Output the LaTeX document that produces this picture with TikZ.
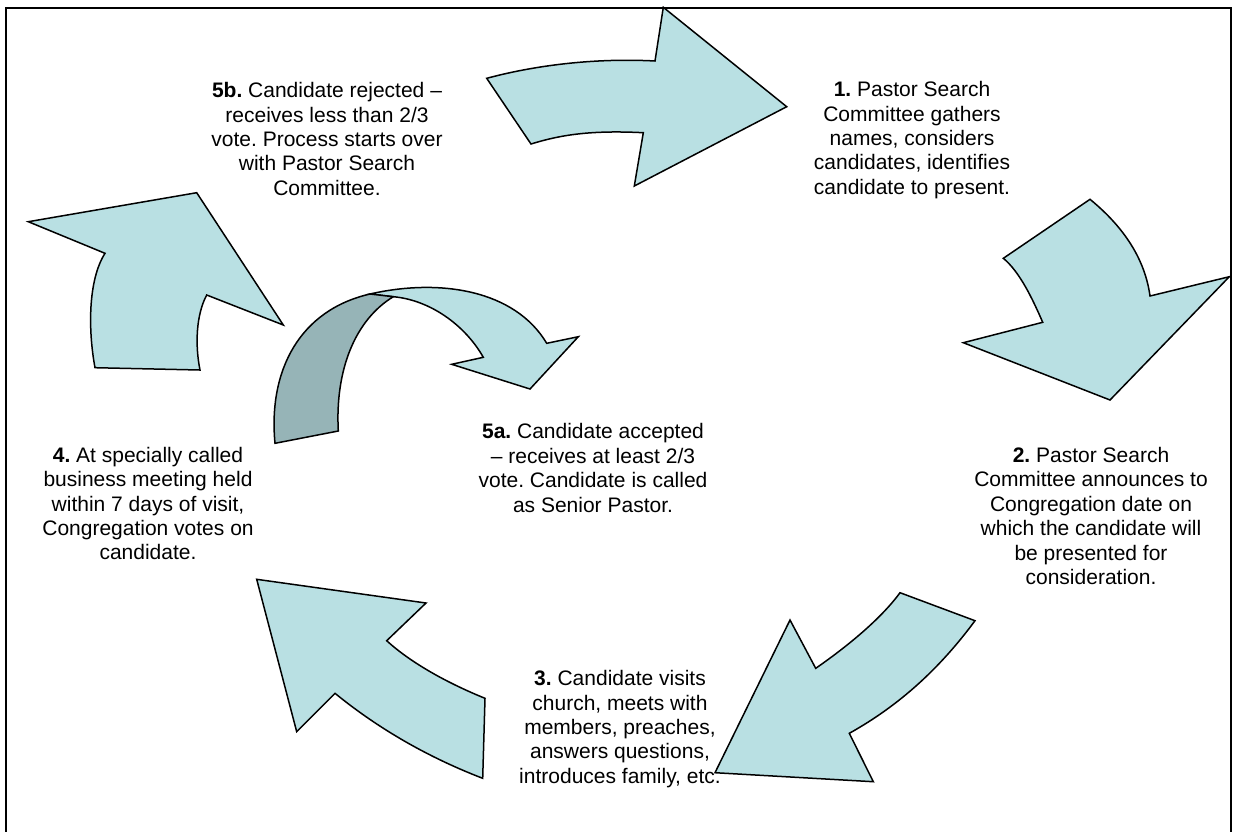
\documentclass[tikz,border=0pt]{standalone}
\usepackage{fontspec}
\setmainfont{Liberation Sans}
\definecolor{arrowfill}{RGB}{185,224,227}
\definecolor{backfill}{RGB}{150,180,183}
\frenchspacing

\begin{document}
\begin{tikzpicture}[x=1pt,y=-1pt,
  block arrow/.style={draw=black,line width=1.5pt,line join=miter,fill=arrowfill},
  back side/.style={block arrow,fill=backfill},
  step text/.style={align=center,inner sep=0pt,
  font=\fontsize{21}{24.4}\selectfont}]

  \useasboundingbox (0,0) rectangle (1238,831);
  \draw[line width=2pt] (6,8) rectangle (1231,850);

  % block arrows round the cycle, clockwise from the top
  \draw[block arrow] (486.7,78.3) .. controls (540,64) and (600,58) .. (655,61)
    -- (663.3,7.3) -- (786.7,106.7) -- (634.3,186) -- (643.3,132.7)
    .. controls (590,130) and (560,135) .. (531,144) -- cycle;
  \draw[block arrow] (1090,199.3) .. controls (1125,228) and (1145,260) .. (1150,296)
    -- (1229.3,276.7) -- (1110,400) -- (963.3,342.7) -- (1042.7,322.3)
    .. controls (1033,300) and (1020,272) .. (1003.3,258.3) -- cycle;
  \draw[block arrow] (975,620.7) .. controls (940,668) and (900,705) .. (849.3,733.3)
    -- (873.3,781.7) -- (715,772.7) -- (790,620) -- (815.7,668.3)
    .. controls (845,648) and (880,620) .. (900,592.7) -- cycle;
  \draw[block arrow] (256.7,579.3) -- (426,603) -- (386.7,640.7)
    .. controls (410,662) and (445,682) .. (485,698.3) -- (482.7,778.3)
    .. controls (430,758) and (380,730) .. (335,693.3) -- (296.7,731.7) -- cycle;
  \draw[block arrow] (95,367.7) .. controls (88,330) and (88,280) .. (105,253.3)
    -- (28.3,221.7) -- (196.7,192.7) -- (283.3,325) -- (206.7,295)
    .. controls (196,315) and (195,345) .. (200,370) -- cycle;

  % twisted arrow in the middle
  \draw[block arrow] (370,294) .. controls (440,278) and (515,290) .. (546.7,343.3)
    -- (578.3,336.7) -- (530,389) -- (451.7,364.3) -- (483.3,357.3)
    .. controls (465,325) and (430,300) .. (393.3,296.7) -- cycle;
  \draw[back side] (275,443.3) .. controls (268,370) and (300,310) .. (370,294)
    -- (393.3,296.7) .. controls (355,320) and (335,370) .. (338.3,431) -- cycle;

  \node[step text] (S1) at (912,140) {\textbf{1.} Pastor Search\\Committee gathers\\names, considers\\candidates, identifies\\candidate to present.};
  \node[step text] (S2) at (1091,516) {\textbf{2.} Pastor Search\\Committee announces to\\Congregation date on\\which the candidate will\\be presented for\\consideration.};
  \node[step text] (S3) at (620,729) {\textbf{3.} Candidate visits\\church, meets with\\members, preaches,\\answers questions,\\introduces family, etc.};
  \node[step text] (S4) at (148,503.5) {\textbf{4.} At specially called\\business meeting held\\within 7 days of visit,\\Congregation votes on\\candidate.};
  \node[step text] (S5a) at (593,468) {\textbf{5a.} Candidate accepted\\– receives at least 2/3\\vote. Candidate is called\\as Senior Pastor.};
  \node[step text] (S5b) at (327,139) {\textbf{5b.} Candidate rejected –\\receives less than 2/3\\vote. Process starts over\\with Pastor Search\\Committee.};

\end{tikzpicture}
\end{document}
